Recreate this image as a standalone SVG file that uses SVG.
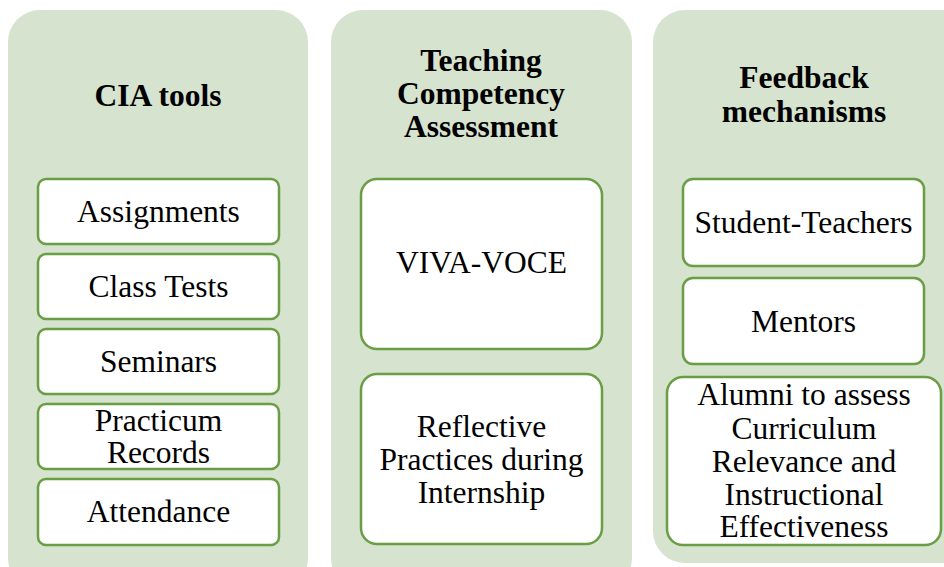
<svg xmlns="http://www.w3.org/2000/svg" width="944" height="567" viewBox="0 0 944 567">
<style>
.panel{fill:#d6e3cf;}
.box{fill:#ffffff;stroke:#6a9e44;stroke-width:2.5;}
.h{font-family:"Liberation Serif","Times New Roman",serif;font-weight:bold;font-size:31.5px;fill:#000;text-anchor:middle;}
.t{font-family:"Liberation Serif","Times New Roman",serif;font-size:31.5px;fill:#000;text-anchor:middle;}
</style>
<rect width="944" height="567" fill="#ffffff"/>
<g id="panel-cia">
<rect class="panel" x="8" y="10" width="300" height="580" rx="32"/>
<text class="h" x="158" y="106">CIA tools</text>
</g>
<g id="panel-tca">
<rect class="panel" x="331" y="10" width="301" height="580" rx="32"/>
<text class="h" x="481" y="71">Teaching</text>
<text class="h" x="481" y="104">Competency</text>
<text class="h" x="481" y="137">Assessment</text>
</g>
<g id="panel-fb">
<rect class="panel" x="653" y="10" width="291" height="553" rx="32"/>
<rect class="panel" x="700" y="10" width="244" height="553"/>
<text class="h" x="804" y="88">Feedback</text>
<text class="h" x="804" y="122">mechanisms</text>
</g>
<g id="assignments"><rect class="box" x="38" y="179" width="241" height="65" rx="8"/><text class="t" x="158.5" y="222">Assignments</text></g>
<g id="class-tests"><rect class="box" x="38" y="254" width="241" height="65" rx="8"/><text class="t" x="158.5" y="297">Class Tests</text></g>
<g id="seminars"><rect class="box" x="38" y="329" width="241" height="65" rx="8"/><text class="t" x="158.5" y="372">Seminars</text></g>
<g id="practicum"><rect class="box" x="38" y="404" width="241" height="65" rx="8"/><text class="t" x="158.5" y="431">Practicum</text><text class="t" x="158.5" y="463">Records</text></g>
<g id="attendance"><rect class="box" x="38" y="479" width="241" height="66" rx="8"/><text class="t" x="158.5" y="522">Attendance</text></g>
<g id="viva-voce"><rect class="box" x="361" y="179" width="241" height="170" rx="16"/><text class="t" x="481.5" y="273">VIVA-VOCE</text></g>
<g id="reflective"><rect class="box" x="361" y="374" width="241" height="170" rx="16"/><text class="t" x="481.5" y="437">Reflective</text><text class="t" x="481.5" y="470">Practices during</text><text class="t" x="481.5" y="503">Internship</text></g>
<g id="student-teachers"><rect class="box" x="683" y="179" width="241" height="87" rx="10"/><text class="t" x="803.5" y="233">Student-Teachers</text></g>
<g id="mentors"><rect class="box" x="683" y="278" width="241" height="86" rx="10"/><text class="t" x="803.5" y="332">Mentors</text></g>
<g id="alumni"><rect class="box" x="667" y="377" width="274" height="168" rx="16"/><text class="t" x="804" y="405">Alumni to assess</text><text class="t" x="804" y="439">Curriculum</text><text class="t" x="804" y="472">Relevance and</text><text class="t" x="804" y="505">Instructional</text><text class="t" x="804" y="537">Effectiveness</text></g>
<g id="connectors"></g>
</svg>
